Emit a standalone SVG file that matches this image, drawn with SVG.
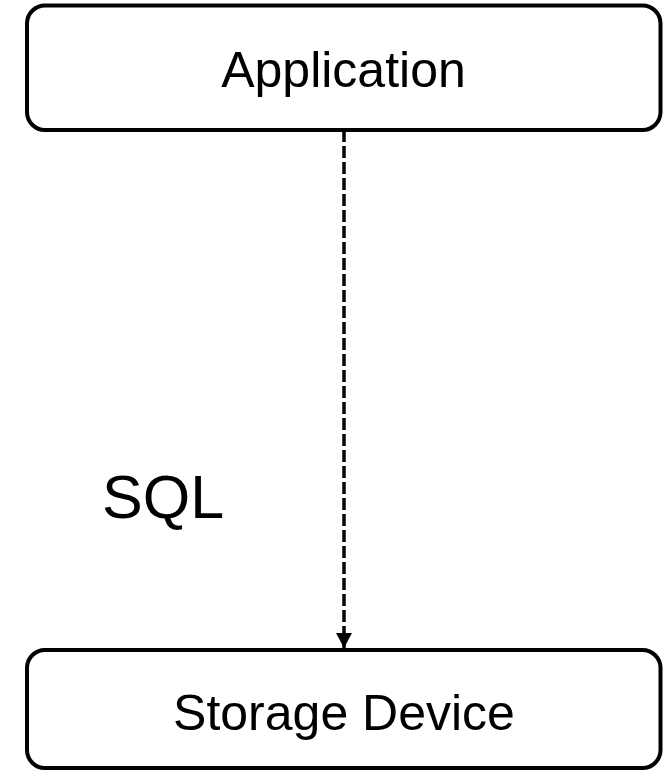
<svg xmlns="http://www.w3.org/2000/svg" width="669" height="771" viewBox="0 0 669 771">
<defs>
<style>
.box{fill:#fff;stroke:#000;stroke-width:4}
.lbl{font-family:"Liberation Sans",Arial,sans-serif;fill:#000}
.edge{fill:none;stroke:#000;stroke-width:3.5;stroke-dasharray:12 4}
</style>
<marker id="arr" markerWidth="16" markerHeight="16" refX="15" refY="8" orient="auto" markerUnits="userSpaceOnUse">
<path d="M0,0 L15,8 L0,16 Z" fill="#000"/>
</marker>
</defs>
<rect width="669" height="771" fill="#fff"/>
<g id="connectors">
<line class="edge" x1="344" y1="130" x2="344" y2="648" marker-end="url(#arr)"/>
<text class="lbl" x="102" y="518" font-size="61">SQL</text>
</g>
<g id="application">
<rect class="box" x="27" y="5.5" width="633.5" height="124.5" rx="18"/>
<text class="lbl" x="343.5" y="87" font-size="50" text-anchor="middle">Application</text>
</g>
<g id="storage">
<rect class="box" x="27" y="650" width="633.5" height="118" rx="18"/>
<text class="lbl" x="344" y="730" font-size="50" text-anchor="middle">Storage Device</text>
</g>
</svg>
